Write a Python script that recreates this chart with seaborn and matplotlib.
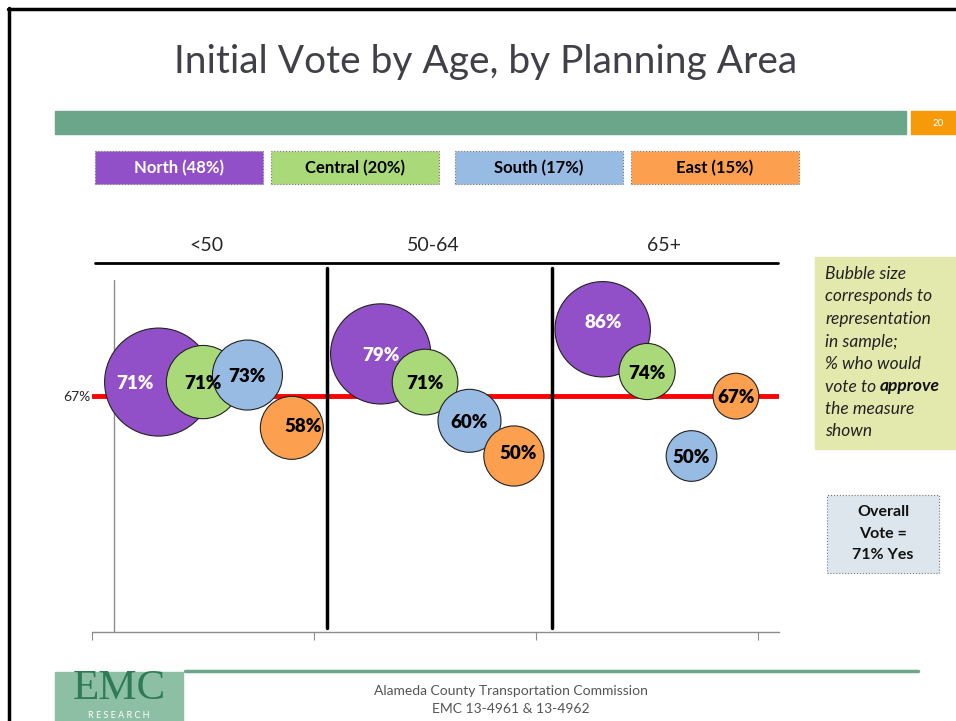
import numpy as np
import pandas as pd
import matplotlib.pyplot as plt
import matplotlib.patches as patches
import seaborn as sns

# --- chart data ---
age_groups = ["<50", "50-64", "65+"]
regions = ["North", "Central", "South", "East"]
region_share = [48, 20, 17, 15]

# % who would vote to approve (North, Central, South, East)
vote_under50 = [71, 71, 73, 58]
vote_50to64 = [79, 71, 60, 50]
vote_65plus = [86, 74, 50, 67]

# relative bubble size = representation in sample
size_under50 = [100, 46, 42, 34]
size_50to64 = [86, 37, 34, 31]
size_65plus = [78, 27, 22, 18]

threshold = 67
overall_yes = 71
slide_number = 20

region_colors = {"North": "#9150C8", "Central": "#A9D979",
                 "South": "#97BBE2", "East": "#FCA050"}
label_colors = {"North": "white", "Central": "black", "South": "black", "East": "black"}

# label nudges in points (dx, dy) where excel moved them off centre
label_nudge = {("<50", "North"): (-17, 0), ("<50", "East"): (8, 2),
               ("50-64", "East"): (3, 3), ("65+", "North"): (0, 6)}

W, H = 956, 721


def px(x, y):
    """pixel position (from top-left) -> figure fraction"""
    return x / W, 1 - y / H


# build the long table
rows = []
for i, (age, votes, sizes) in enumerate(zip(age_groups,
                                            [vote_under50, vote_50to64, vote_65plus],
                                            [size_under50, size_50to64, size_65plus])):
    for j, reg in enumerate(regions):
        rows.append({"age": age, "region": reg, "x": i + 0.3 + 0.2 * j,
                     "vote": votes[j], "size": sizes[j]})
df = pd.DataFrame(rows)

sns.set_style("white")
plt.rcParams["font.family"] = ["Lato", "DejaVu Sans"]

fig = plt.figure(figsize=(W / 100, H / 100), dpi=100)
ax = fig.add_axes([92 / W, 1 - 632 / H, 687 / W, 352 / H])

# threshold line first so bubbles sit on top of it
ax.axhline(threshold, color="#FF0000", lw=3.5, zorder=1)
ax.axvline(0.099, color="#8C8C8C", lw=1, zorder=0)

sns.scatterplot(data=df, x="x", y="vote", hue="region", palette=region_colors,
                size="size", sizes=(0, 6047), size_norm=(0, 100), legend=False,
                edgecolor="#222222", linewidth=0.8, alpha=1, ax=ax, zorder=3)

for _, r in df.iterrows():
    dx, dy = label_nudge.get((r["age"], r["region"]), (0, 0))
    ax.annotate(f"{r['vote']}%", (r["x"], r["vote"]), xytext=(dx, dy),
                textcoords="offset points", ha="center", va="center_baseline",
                fontsize=13.5, fontweight="heavy", color=label_colors[r["region"]], zorder=5)

ax.set_xlim(0, 3.094)
ax.set_ylim(0, 100)
ax.set_xticks([0, 1, 2, 3])
ax.set_xticklabels([])
ax.set_yticks([threshold])
ax.set_yticklabels([f"{threshold}%"])
ax.tick_params(axis="x", direction="out", length=6, width=0.8, color="#8C8C8C", bottom=True)
ax.tick_params(axis="y", length=0, pad=1, labelsize=10)
ax.set_xlabel("")
ax.set_ylabel("")
for s in ["top", "right", "left"]:
    ax.spines[s].set_visible(False)
ax.spines["bottom"].set_color("#8C8C8C")
ax.spines["bottom"].set_linewidth(1)

# age group separators and headers
for sx in [1.06, 2.07]:
    ax.plot([sx, sx], [1, 103.4], color="black", lw=2.5, clip_on=False, zorder=2)
ax.plot([0.014, 3.09], [104.8, 104.8], color="black", lw=2, clip_on=False)
for hx, age in zip([0.514, 1.536, 2.577], age_groups):
    ax.text(hx, 109.8, age, ha="center", va="center", fontsize=14, clip_on=False)

# --- slide decorations ---
fig.add_artist(plt.Line2D([8 / W, 1], [1 - 8.5 / H] * 2, color="black", lw=2.5))
fig.add_artist(plt.Line2D([8.5 / W] * 2, [0, 1 - 8 / H], color="black", lw=2.5))

fig.text(*px(486, 62), "Initial Vote by Age, by Planning Area", ha="center",
         va="center", fontsize=28, color="#404048")

fig.add_artist(patches.Rectangle(px(55, 134), 851 / W, 23 / H, color="#6BA58A",
                                 transform=fig.transFigure))
fig.add_artist(patches.Rectangle(px(911, 134), 45 / W, 23 / H, color="#F79A0A",
                                 transform=fig.transFigure))
fig.text(*px(938, 123), str(slide_number), ha="center", va="center", fontsize=7, color="white")

# legend boxes
box_left = [95, 271, 455, 631]
for bx, reg, share in zip(box_left, regions, region_share):
    fig.add_artist(patches.Rectangle(px(bx, 184), 168 / W, 33 / H,
                                     facecolor=region_colors[reg], edgecolor="#777777",
                                     lw=0.8, ls=":", transform=fig.transFigure))
    fig.text(*px(bx + 84, 168), f"{reg} ({share}%)", ha="center", va="center",
             fontsize=12, fontweight="bold", color=label_colors[reg])

# note box
fig.add_artist(patches.Rectangle(px(815, 449), 141 / W, 192 / H, color="#E3E9AD",
                                 transform=fig.transFigure))
note_lines = ["Bubble size", "corresponds to", "representation", "in sample;",
              "% who would", "vote to", "the measure", "shown"]
renderer = fig.canvas.get_renderer()
for k, line in enumerate(note_lines):
    t = fig.text(*px(825, 274 + 22.5 * k), line, ha="left", va="center",
                 fontsize=12.5, style="italic", color="#222222")
    if line == "vote to":
        bb = t.get_window_extent(renderer)
        fig.text(bb.x1 / W + 4 / W, 1 - (274 + 22.5 * k) / H, "approve", ha="left",
                 va="center", fontsize=12.5, style="italic", fontweight="bold",
                 color="#111111")

# overall box
fig.add_artist(patches.Rectangle(px(827, 573), 112 / W, 78 / H, facecolor="#DCE6EC",
                                 edgecolor="#777777", lw=0.8, ls=":",
                                 transform=fig.transFigure))
for k, line in enumerate(["Overall", "Vote =", f"{overall_yes}% Yes"]):
    fig.text(*px(883, 512 + 21.5 * k), line, ha="center", va="center",
             fontsize=11.5, fontweight="bold", color="#111111")

# footer
fig.add_artist(plt.Line2D([185 / W, 918 / W], [1 - 671 / H] * 2, color="#6BA58A", lw=2.5))
fig.add_artist(patches.Rectangle(px(55, 721), 128 / W, 49 / H, color="#8CBFA3",
                                 transform=fig.transFigure))
fig.text(*px(119, 689), "EMC", ha="center", va="center", fontsize=31,
         family="Liberation Serif", color="#2F7A57")
fig.text(*px(119, 716), "R E S E A R C H", ha="center", va="center", fontsize=6.5,
         color="white")
fig.text(*px(511, 691), "Alameda County Transportation Commission", ha="center",
         va="center", fontsize=10, color="#555555")
fig.text(*px(511, 709), "EMC 13-4961 & 13-4962", ha="center", va="center",
         fontsize=10, color="#555555")

fig.savefig("out.png", dpi=100)
